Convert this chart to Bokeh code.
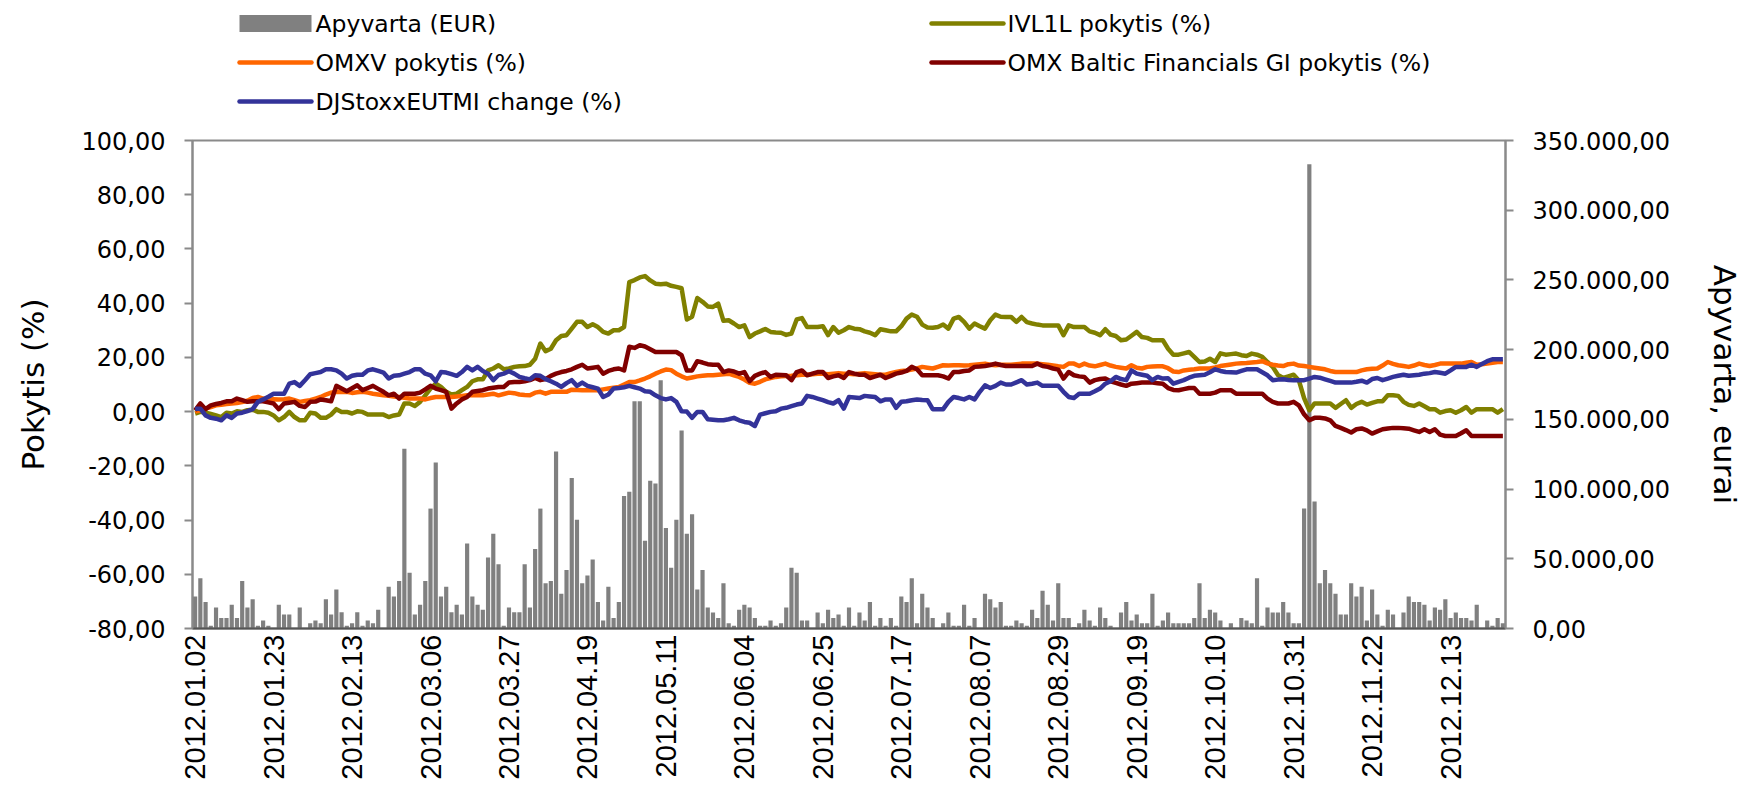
import math
from bokeh.plotting import figure
from bokeh.layouts import column
from bokeh.models import Range1d, LinearAxis, FixedTicker, ColumnDataSource
from bokeh.core.properties import value
from bokeh.embed import file_html
from bokeh.resources import INLINE

# ---------------- data ----------------
tick_labels = ["2012.01.02", "2012.01.23", "2012.02.13", "2012.03.06", "2012.03.27",
               "2012.04.19", "2012.05.11", "2012.06.04", "2012.06.25", "2012.07.17",
               "2012.08.07", "2012.08.29", "2012.09.19", "2012.10.10", "2012.10.31",
               "2012.11.22", "2012.12.13"]
label_every = 15  # trading days between labels

series_names = ["Apyvarta (EUR)", "IVL1L pokytis (%)", "OMXV pokytis (%)",
                "OMX Baltic Financials GI pokytis (%)", "DJStoxxEUTMI change (%)"]

# turnover, thousand EUR (right axis)
turnover_k = [
    23, 36, 19, 2, 15, 7.6, 7.6, 17, 7.6, 34,
    15, 21, 2, 5.7, 2, 0.3, 17, 10, 10, 0.3,
    15, 0.3, 3.8, 5.7, 3.8, 21, 10, 28, 11.7, 2,
    3.8, 11.7, 2, 5.7, 3.8, 13.4, 0.3, 30, 23, 34,
    129, 40, 10, 17, 34, 86, 119, 23, 30, 11.7,
    17, 10, 61, 23, 17, 13.4, 51, 68, 46, 2,
    15, 11.7, 11.7, 46, 15, 57, 86, 32.5, 34, 127,
    25, 42, 108, 78, 32.5, 38, 49.5, 19, 5.7, 30,
    7.6, 19, 95, 98, 163, 163, 63, 106, 104, 178,
    72, 43.5, 78, 142, 68, 82, 28, 42, 15, 11.5,
    7.6, 32.5, 3.8, 2, 13.4, 17, 15, 7.6, 2, 2,
    5.7, 2, 3.8, 15, 43.5, 40, 5.7, 5.7, 0.3, 11.5,
    3.8, 13.4, 7.6, 10, 2, 15, 2, 11.5, 5.7, 19,
    2, 7.6, 2, 7.6, 2, 23, 19, 36, 3.8, 25,
    15, 7.6, 0.3, 3.8, 11.5, 2, 2, 17, 2, 7.6,
    0.3, 25, 21, 15, 19, 2, 2, 5.7, 3.8, 2,
    13.4, 7.6, 27, 17, 5.7, 32.5, 7.6, 7.6, 1.0, 3.8,
    13.4, 5.7, 2, 15, 7.6, 2, 0.3, 11.5, 19, 5.7,
    10, 3.8, 3.8, 25, 2, 5.7, 11.5, 3.8, 3.8, 3.8,
    3.8, 7.6, 32.5, 7.6, 13.4, 11.5, 5.7, 0.3, 3.8, 0.3,
    7.6, 5.7, 3.8, 36, 2, 15, 11.5, 11.5, 19, 11.5,
    3.8, 3.8, 86, 333, 91, 32.5, 42, 32.5, 25, 10,
    10, 32.5, 23, 30, 5.7, 28, 10, 2, 13.4, 10,
    0.3, 11.5, 23, 19, 19, 17, 5.7, 15, 13.4, 21,
    7.6, 11.5, 7.6, 7.6, 5.7, 17, 0.3, 5.7, 2, 7.6,
    3.8,
]

ivl1l = [
    -0.7, -0.1, -0.4, -0.9, -1.4, -2.0, -0.4, -0.7, 0.1, -0.1,
    0.5, 0.7, -0.1, -0.1, -0.4, -1.4, -3.2, -2.0, -0.1, -2.0,
    -3.2, -3.2, -0.4, -0.7, -2.3, -2.3, -1.1, 0.9, -0.1, -0.1,
    -0.7, 0.1, -0.1, -1.1, -1.1, -1.1, -1.1, -2.0, -1.4, -1.1,
    3.0, 3.0, 2.1, 3.6, 6.0, 8.5, 10.3, 9.1, 7.3, 6.3,
    6.6, 7.9, 9.1, 11.2, 11.9, 11.9, 15.2, 15.9, 17.1, 15.6,
    15.9, 16.5, 16.7, 16.8, 17.3, 19.5, 25.1, 22.3, 23.2, 26.3,
    27.9, 28.2, 30.6, 33.1, 33.1, 31.2, 32.2, 31.2, 29.4, 28.8,
    30.0, 30.0, 31.2, 47.8, 48.5, 49.5, 50.0, 48.4, 47.2, 47.0,
    47.2, 46.4, 46.0, 45.5, 34.0, 35.0, 41.9, 40.5, 38.8, 38.6,
    39.8, 33.5, 33.7, 32.5, 31.2, 31.8, 27.5, 28.8, 29.6, 30.5,
    29.4, 29.2, 29.1, 28.3, 28.8, 34.0, 34.5, 31.2, 31.2, 31.2,
    31.5, 28.2, 31.2, 29.1, 30.0, 31.2, 30.6, 30.4, 29.6, 29.1,
    28.2, 30.4, 30.0, 29.6, 29.6, 31.5, 34.3, 35.8, 35.0, 32.1,
    31.0, 30.9, 31.2, 32.1, 30.6, 34.3, 34.9, 33.1, 30.6, 32.5,
    31.5, 30.6, 33.7, 35.8, 35.0, 34.9, 34.9, 33.1, 34.9, 33.0,
    32.5, 32.1, 31.8, 31.8, 31.8, 31.8, 28.2, 31.8, 31.2, 31.2,
    31.2, 29.6, 29.1, 28.2, 30.4, 28.4, 27.9, 26.3, 26.6, 28.0,
    29.4, 27.5, 27.2, 26.3, 26.3, 26.3, 23.2, 21.0, 21.0, 21.5,
    22.0, 20.2, 18.3, 18.5, 19.5, 18.3, 21.5, 21.0, 21.2, 21.4,
    20.8, 20.5, 21.4, 21.0, 20.2, 18.3, 16.5, 13.5, 12.4, 13.0,
    13.6, 11.5, 5.0, 0.5, 3.0, 3.0, 3.0, 3.0, 1.4, 2.8,
    4.2, 1.4, 2.8, 3.6, 2.6, 3.2, 3.8, 3.8, 6.0, 6.0,
    5.8, 3.6, 2.5, 2.1, 3.0, 2.0, 0.9, 0.9, -0.4, 0.2,
    0.5, -0.4, 0.5, 1.7, -0.4, 0.9, 0.9, 0.9, 0.9, -0.4,
    0.9,
]

omxv = [
    0.0, 0.5, 1.1, 1.7, 2.3, 2.5, 2.8, 3.0, 3.2, 3.5,
    4.0, 5.0, 5.4, 4.8, 4.5, 4.6, 4.5, 4.6, 4.8, 4.2,
    3.6, 3.9, 4.2, 4.8, 5.4, 6.3, 7.0, 7.3, 7.2, 7.3,
    6.9, 7.1, 7.3, 7.0, 6.6, 6.3, 6.0, 5.8, 5.6, 5.4,
    5.1, 4.8, 4.8, 4.8, 4.5, 5.0, 5.4, 5.4, 5.4, 5.4,
    5.6, 5.8, 6.0, 6.0, 6.0, 6.0, 6.3, 6.6, 6.0, 6.5,
    7.0, 6.8, 6.3, 6.1, 6.0, 7.0, 7.3, 6.6, 7.3, 7.3,
    7.3, 7.3, 8.1, 8.0, 7.9, 7.9, 7.9, 7.9, 8.2, 8.5,
    8.8, 9.1, 10.0, 10.9, 10.9, 11.5, 12.2, 13.0, 14.0, 14.8,
    15.5, 15.3, 14.0, 13.0, 12.2, 12.6, 13.0, 13.2, 13.4, 13.4,
    13.6, 13.8, 14.0, 13.4, 12.8, 11.8, 10.6, 10.3, 11.0, 11.9,
    12.4, 12.8, 13.0, 13.1, 13.2, 13.4, 13.6, 13.6, 13.8, 14.0,
    14.0, 13.8, 14.0, 14.2, 14.0, 14.0, 13.8, 14.0, 14.2, 14.0,
    13.8, 13.6, 13.6, 14.2, 14.6, 15.0, 15.2, 15.5, 15.9, 16.5,
    16.2, 15.9, 16.5, 17.1, 17.0, 17.1, 17.1, 17.0, 17.1, 17.3,
    17.5, 17.7, 17.3, 17.1, 17.3, 17.3, 17.3, 17.5, 17.7, 17.7,
    17.7, 17.7, 17.5, 17.3, 17.0, 16.7, 16.5, 17.7, 17.7, 16.8,
    17.7, 17.0, 16.7, 17.2, 17.7, 17.0, 16.5, 16.2, 15.9, 17.1,
    16.2, 15.9, 16.5, 16.6, 16.7, 16.7, 16.0, 14.8, 14.6, 15.2,
    15.4, 15.6, 15.9, 15.9, 15.9, 16.3, 16.8, 17.1, 17.4, 17.7,
    17.8, 17.9, 18.1, 18.3, 18.6, 17.8, 17.3, 17.0, 16.8, 17.5,
    17.7, 17.0, 16.8, 16.5, 16.2, 15.9, 15.6, 15.0, 14.6, 14.6,
    14.6, 14.6, 14.6, 15.2, 15.6, 15.8, 15.9, 17.0, 18.3, 17.6,
    17.1, 16.8, 16.5, 17.0, 17.7, 17.2, 16.8, 17.2, 17.7, 17.7,
    17.7, 17.7, 17.7, 18.0, 18.3, 17.3, 17.5, 17.7, 18.0, 18.3,
    18.3,
]

omx_baltic_fin = [
    0.5, 3.0, 0.9, 2.3, 2.8, 3.2, 3.8, 3.8, 4.8, 4.2,
    3.6, 3.8, 3.8, 3.8, 3.4, 3.0, 0.9, 3.0, 3.3, 3.6,
    2.1, 1.7, 3.6, 3.7, 4.5, 4.2, 3.8, 9.5, 8.5, 7.5,
    8.6, 9.7, 7.9, 8.7, 9.5, 8.4, 7.3, 6.0, 6.6, 4.8,
    6.6, 6.6, 6.6, 7.0, 8.2, 9.5, 8.5, 7.9, 7.3, 1.1,
    3.0, 4.5, 5.4, 7.3, 7.6, 7.9, 8.5, 8.8, 9.1, 9.1,
    10.7, 10.9, 10.9, 11.2, 11.6, 12.4, 11.6, 12.0, 13.2, 14.0,
    14.6, 15.0, 15.6, 16.5, 17.3, 15.9, 16.2, 16.5, 14.0, 15.0,
    15.6, 15.9, 15.2, 23.9, 23.5, 24.5, 24.0, 23.0, 22.0, 22.0,
    22.0, 22.0, 22.0, 20.8, 15.2, 15.2, 18.6, 18.1, 17.5, 17.3,
    17.3, 14.6, 15.2, 14.8, 14.0, 14.6, 11.2, 13.2, 14.0, 14.6,
    12.8, 13.6, 13.5, 13.4, 11.6, 14.6, 15.2, 13.4, 14.0, 14.6,
    14.6, 12.4, 13.0, 13.4, 12.4, 14.6, 14.0, 13.6, 13.6, 12.4,
    13.0, 13.6, 12.4, 13.2, 14.0, 14.4, 15.0, 16.5, 15.6, 13.4,
    13.4, 13.4, 13.4, 13.0, 12.2, 14.6, 14.6, 15.0, 15.2, 16.5,
    16.6, 16.8, 17.2, 17.7, 17.2, 16.8, 16.8, 16.8, 16.8, 16.8,
    16.8, 17.7, 16.8, 16.5, 15.9, 15.5, 12.2, 14.6, 13.4, 13.0,
    12.8, 10.7, 11.6, 12.0, 12.2, 11.2, 10.6, 10.0, 9.5, 10.3,
    10.5, 10.7, 10.7, 10.7, 10.5, 10.3, 8.7, 8.0, 7.9, 8.3,
    8.7, 8.7, 6.6, 6.6, 6.6, 7.0, 7.9, 7.9, 7.9, 6.6,
    6.6, 6.6, 6.6, 6.6, 6.6, 4.8, 3.6, 3.0, 3.0, 3.0,
    3.6, 2.3, -1.0, -3.2, -2.3, -2.3, -2.5, -3.2, -5.3, -6.0,
    -6.8, -7.7, -6.5, -6.2, -6.9, -8.1, -7.3, -6.5, -6.2, -6.0,
    -6.0, -6.1, -6.3, -6.9, -7.5, -6.5, -7.5, -6.5, -8.5, -9.0,
    -9.0, -9.0, -8.0, -6.9, -9.0, -9.0, -9.0, -9.0, -9.0, -9.0,
    -9.0,
]

djstoxx = [
    1.1, 1.1, -1.4, -2.3, -2.6, -3.2, -1.4, -2.3, -0.7, -0.4,
    0.2, 0.9, 3.6, 4.5, 5.5, 6.6, 6.6, 6.6, 10.3, 10.9,
    9.5, 11.6, 13.8, 14.2, 14.6, 15.6, 15.6, 15.2, 14.0, 12.2,
    13.2, 13.6, 13.6, 15.2, 15.6, 15.0, 14.4, 12.2, 13.2, 13.4,
    14.0, 14.6, 15.6, 15.6, 14.0, 13.4, 11.2, 14.6, 14.4, 13.8,
    13.2, 14.6, 16.5, 15.2, 16.5, 15.0, 14.0, 11.6, 13.5, 14.0,
    14.9, 14.0, 12.8, 12.3, 11.9, 13.4, 13.2, 12.0, 11.2, 10.3,
    9.1, 10.5, 11.6, 9.5, 10.7, 9.5, 9.0, 8.5, 5.4, 6.3,
    8.5, 8.7, 9.0, 9.5, 9.0, 8.5, 7.5, 7.3, 6.0, 5.0,
    4.5, 5.0, 3.6, 0.1, 0.0, -2.3, -0.1, -0.1, -2.8, -3.0,
    -3.2, -3.2, -2.8, -2.3, -3.2, -3.8, -4.1, -5.3, -1.1, -0.6,
    -0.1, 0.1, 1.1, 1.4, 2.0, 2.6, 3.0, 5.8, 5.4, 4.8,
    4.2, 3.5, 3.0, 4.2, 1.1, 5.4, 5.2, 5.0, 5.8, 5.6,
    5.4, 3.8, 4.5, 4.5, 1.4, 3.6, 3.8, 4.2, 4.5, 4.3,
    4.2, 0.9, 0.9, 0.9, 3.6, 5.4, 5.0, 4.5, 5.4, 4.5,
    7.3, 9.7, 8.7, 9.5, 10.7, 10.0, 10.0, 10.8, 11.6, 10.0,
    10.3, 10.7, 9.5, 9.5, 9.5, 9.5, 7.3, 5.4, 5.0, 6.6,
    6.6, 6.6, 7.5, 8.5, 10.3, 11.2, 12.8, 12.0, 11.6, 15.2,
    14.0, 13.6, 13.2, 11.6, 12.8, 12.2, 12.3, 10.3, 11.0, 11.6,
    12.5, 13.2, 13.4, 13.6, 14.5, 15.6, 15.0, 14.6, 14.5, 14.4,
    15.0, 15.6, 15.6, 15.6, 14.5, 13.4, 11.6, 11.8, 11.9, 11.7,
    11.6, 11.6, 11.6, 12.2, 12.8, 12.5, 11.9, 11.3, 10.7, 10.7,
    10.7, 10.7, 11.0, 11.4, 10.7, 12.0, 12.4, 11.6, 12.2, 12.8,
    13.2, 13.6, 13.2, 13.4, 13.6, 14.0, 14.2, 14.6, 14.3, 14.0,
    15.2, 16.5, 16.5, 16.5, 17.3, 16.5, 17.6, 18.6, 19.3, 19.3,
    19.3,
]

left_ticks = [-80, -60, -40, -20, 0, 20, 40, 60, 80, 100]
right_ticks = [0, 50000, 100000, 150000, 200000, 250000, 300000, 350000]

# ---------------- styling / layout constants ----------------
FONT = "DejaVu Sans"
AX_GRAY = "#8a8a8a"
BAR_COLOR = "#808080"
COLORS = {"ivl": "#808000", "omxv": "#FF6600", "fin": "#800000", "dj": "#333399"}
LINE_W = 4.5

PAGE_W, PAGE_H = 1745, 793
LEG_H = 120                                  # height of the legend strip above the chart
FRAME_L, FRAME_T, FRAME_W, FRAME_H = 192, 140, 1313, 488
FRAME_B = FRAME_T + FRAME_H
BORDER_R = PAGE_W - FRAME_L - FRAME_W


def lt_num(v):
    s = f"{v:,.2f}"
    return s.replace(",", "X").replace(".", ",").replace("X", ".")


# ---------------- legend strip (x in page pixels) ----------------
lf = figure(width=PAGE_W, height=LEG_H, output_backend="svg", toolbar_location=None,
            x_range=Range1d(FRAME_L, FRAME_L + FRAME_W), y_range=Range1d(LEG_H, 0),
            min_border_left=FRAME_L, min_border_right=BORDER_R,
            min_border_top=0, min_border_bottom=0,
            outline_line_color=None, background_fill_color="white", border_fill_color="white")
lf.axis.visible = False
lf.grid.visible = False

col1_x, col2_x, sample_w, gap = 239, 931, 72, 4
row_y = [23, 62, 101]
lf.quad(left=[col1_x], right=[col1_x + sample_w], top=[row_y[0] - 8.5], bottom=[row_y[0] + 8.5],
        fill_color=BAR_COLOR, line_color=None)
line_samples = [(col2_x, row_y[0], COLORS["ivl"]), (col1_x, row_y[1], COLORS["omxv"]),
                (col2_x, row_y[1], COLORS["fin"]), (col1_x, row_y[2], COLORS["dj"])]
for cx, ry, colr in line_samples:
    lf.segment(x0=[cx], y0=[ry], x1=[cx + sample_w], y1=[ry], line_color=colr,
               line_width=LINE_W, line_cap="round")
lab_x = [col1_x, col2_x, col1_x, col2_x, col1_x]
lab_y = [row_y[0], row_y[0], row_y[1], row_y[1], row_y[2]]
lf.text(x=[x + sample_w + gap for x in lab_x], y=lab_y, text=series_names,
        text_font=value(FONT), text_font_size="23.5px", text_color="black",
        text_baseline="middle", text_align="left")

# ---------------- main chart ----------------
n_days = len(turnover_k)
p = figure(frame_width=FRAME_W, frame_height=FRAME_H, output_backend="svg", toolbar_location=None,
           x_range=Range1d(-0.5, n_days - 0.5), y_range=Range1d(-80, 100),
           min_border_left=FRAME_L, min_border_right=BORDER_R,
           min_border_top=FRAME_T - LEG_H, min_border_bottom=PAGE_H - FRAME_B,
           background_fill_color="white", border_fill_color="white")
p.extra_y_ranges = {"right": Range1d(0, 350000)}
p.xgrid.visible = False
p.ygrid.visible = False
p.outline_line_color = AX_GRAY
p.outline_line_width = 2

bar_src = ColumnDataSource(dict(x=list(range(len(turnover_k))), top=[v * 1000 for v in turnover_k]))
p.vbar(x="x", top="top", bottom=0, width=0.8, source=bar_src, y_range_name="right",
       fill_color=BAR_COLOR, line_color=None)


def add_line(vals, color):
    src = ColumnDataSource(dict(x=list(range(len(vals))), y=vals))
    return p.line("x", "y", source=src, line_color=color, line_width=LINE_W, line_join="round")


add_line(ivl1l, COLORS["ivl"])
add_line(omxv, COLORS["omxv"])
add_line(omx_baltic_fin, COLORS["fin"])
add_line(djstoxx, COLORS["dj"])


def style_y_axis(ax, label, standoff_label):
    ax.axis_label = label
    ax.axis_label_text_font = FONT
    ax.axis_label_text_font_size = "31px"
    ax.axis_label_text_font_style = "normal"
    ax.axis_label_text_color = "black"
    ax.axis_label_standoff = standoff_label
    ax.major_label_text_font = FONT
    ax.major_label_text_font_size = "24px"
    ax.major_label_text_color = "black"
    ax.major_label_standoff = 19
    ax.axis_line_color = AX_GRAY
    ax.axis_line_width = 2
    ax.major_tick_line_color = AX_GRAY
    ax.major_tick_line_width = 2
    ax.major_tick_out = 8
    ax.major_tick_in = 0
    ax.minor_tick_line_color = None


ya = p.yaxis[0]
ya.ticker = FixedTicker(ticks=left_ticks)
ya.major_label_overrides = {t: lt_num(t) for t in left_ticks}
style_y_axis(ya, "Pokytis (%)", 28)

ra = LinearAxis(y_range_name="right", ticker=FixedTicker(ticks=right_ticks))
ra.major_label_overrides = {t: lt_num(t) for t in right_ticks}
style_y_axis(ra, "Apyvarta, eurai", 34)
p.add_layout(ra, "right")

xa = p.xaxis[0]
x_ticks = [k * label_every for k in range(len(tick_labels))]
xa.ticker = FixedTicker(ticks=x_ticks)
xa.major_label_overrides = {t: lab for t, lab in zip(x_ticks, tick_labels)}
xa.major_label_orientation = math.pi / 2
xa.major_label_text_font = "Liberation Sans"
xa.major_label_text_font_size = "29px"
xa.major_label_text_color = "black"
xa.major_label_standoff = 6
xa.axis_line_color = "#555555"
xa.axis_line_width = 2
xa.major_tick_line_color = None
xa.major_tick_out = 0
xa.major_tick_in = 0
xa.minor_tick_line_color = None

layout = column(lf, p, spacing=0)
open("out.html", "w").write(file_html(layout, INLINE))
